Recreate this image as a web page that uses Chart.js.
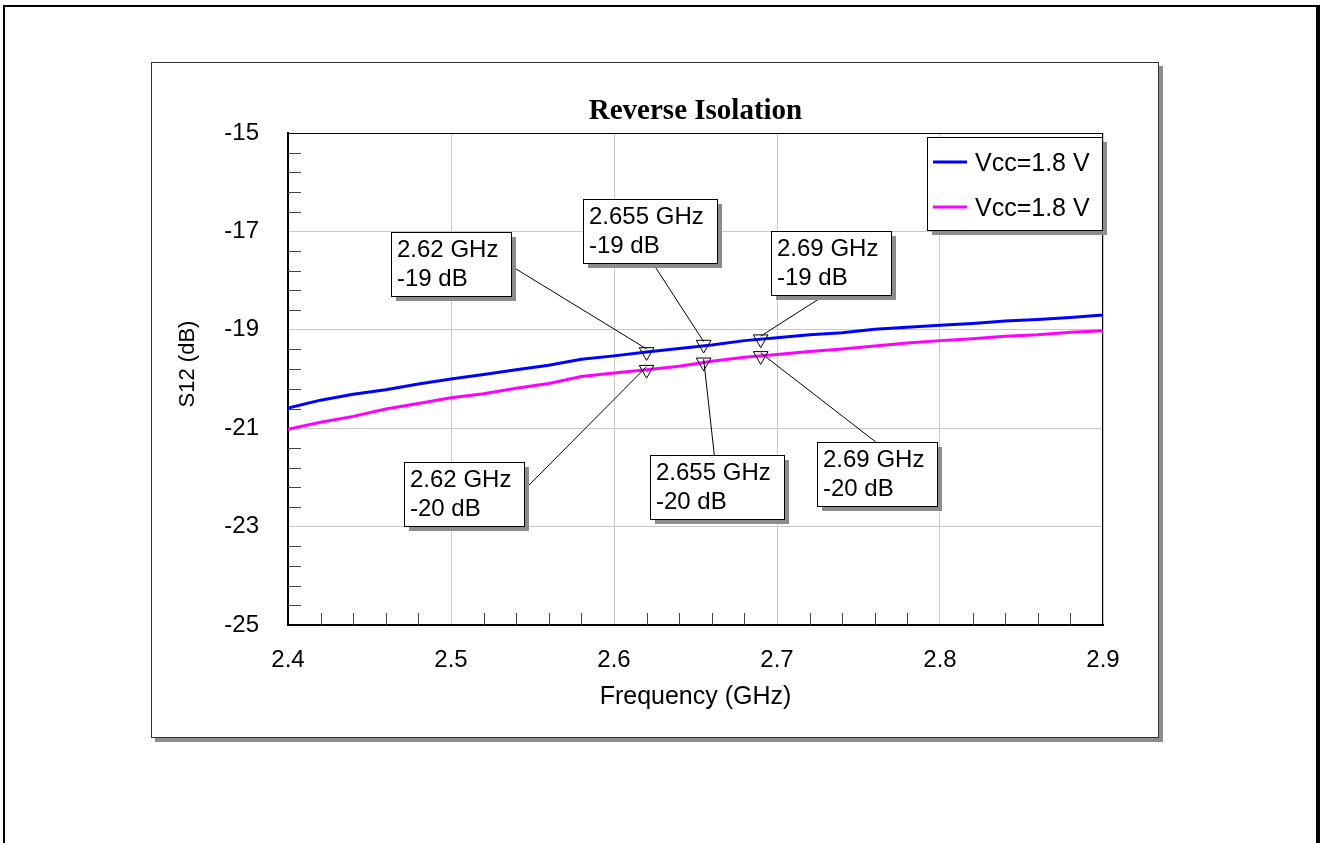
<!DOCTYPE html>
<html><head><meta charset="utf-8">
<script src="https://cdn.jsdelivr.net/npm/chart.js@4.4.1/dist/chart.umd.min.js"></script>
<style>
html,body{margin:0;padding:0;background:#fff;overflow:hidden}
#wrap{position:relative;width:1320px;height:843px}
canvas{position:absolute;left:0;top:0}
#frame{position:absolute;left:3px;top:5px;width:1311px;height:900px;border-left:2px solid #000;border-top:2px solid #000;border-right:4px solid #000;pointer-events:none}
</style></head>
<body><div id="wrap"><canvas id="c" width="1320" height="843"></canvas><div id="frame"></div></div>
<script>
// ---- data ----
const freqGHz = [2.40,2.42,2.44,2.46,2.48,2.50,2.52,2.54,2.56,2.58,2.60,2.62,2.64,2.66,2.68,2.70,2.72,2.74,2.76,2.78,2.80,2.82,2.84,2.86,2.88,2.90];
const s12Blue = [-20.59,-20.43,-20.31,-20.22,-20.10,-20.00,-19.91,-19.81,-19.72,-19.60,-19.53,-19.45,-19.38,-19.31,-19.22,-19.16,-19.10,-19.06,-18.99,-18.95,-18.91,-18.87,-18.82,-18.79,-18.75,-18.70];
const s12Magenta = [-21.02,-20.88,-20.76,-20.61,-20.50,-20.38,-20.30,-20.19,-20.09,-19.95,-19.88,-19.81,-19.74,-19.64,-19.56,-19.50,-19.44,-19.39,-19.33,-19.27,-19.22,-19.18,-19.13,-19.10,-19.05,-19.02];
const markerFreqs = [2.62, 2.655, 2.69];
const markerBlue = [-19.45, -19.30, -19.19];
const markerMagenta = [-19.81, -19.66, -19.53];
const seriesNames = ['Vcc=1.8 V', 'Vcc=1.8 V'];
const titleText = 'Reverse Isolation';
const xTitle = 'Frequency (GHz)';
const yTitle = 'S12 (dB)';

// ---- layout (callout box top-left in data coords, leader anchor as box fraction) ----
const callouts = [
  {set:'b', i:0, left:2.4632, top:-17.012, ax:1.0, ay:0.53},
  {set:'b', i:1, left:2.5810, top:-16.341, ax:0.52, ay:1.0},
  {set:'b', i:2, left:2.6963, top:-16.992, ax:0.45, ay:1.0},
  {set:'m', i:0, left:2.4712, top:-21.687, ax:1.0, ay:0.44},
  {set:'m', i:1, left:2.6221, top:-21.545, ax:0.48, ay:0.0},
  {set:'m', i:2, left:2.7245, top:-21.280, ax:0.49, ay:0.0}
];

const FONT = "'Liberation Sans', Arial, sans-serif";
const plotLeft = 288, plotTop = 133, plotRight = 1103, plotBottom = 625;
const BLUE = '#0000ff', MAG = '#ff00ff';

const decor = {
  id:'decor',
  beforeDraw(chart){
    const ctx = chart.ctx;
    ctx.save();
    ctx.fillStyle = '#fff'; ctx.fillRect(0,0,chart.width,chart.height);
    ctx.fillStyle = '#8c8c8c'; ctx.fillRect(155,66,1008,676);
    ctx.fillStyle = '#fff'; ctx.fillRect(151,62,1008,675);
    ctx.strokeStyle = '#333'; ctx.lineWidth = 1; ctx.strokeRect(151.5,62.5,1007,675);
    ctx.restore();
  },
  beforeDatasetsDraw(chart){
    const ctx = chart.ctx, a = chart.chartArea, xs = chart.scales.x, ys = chart.scales.y;
    ctx.save();
    ctx.strokeStyle = '#000'; ctx.lineWidth = 1;
    ctx.beginPath();
    ctx.moveTo(a.left, a.top + 0.5); ctx.lineTo(a.right, a.top + 0.5);
    ctx.moveTo(a.right - 0.5, a.top); ctx.lineTo(a.right - 0.5, a.bottom);
    ctx.stroke();
    ctx.strokeStyle = '#444'; ctx.lineWidth = 1;
    ctx.beginPath();
    for (let k = 1; k < 25; k++) {
      if (k % 5 === 0) continue;
      const y = Math.round(ys.getPixelForValue(-25 + 0.4 * k)) + 0.5;
      ctx.moveTo(a.left, y); ctx.lineTo(a.left + 13, y);
      const x = Math.round(xs.getPixelForValue(2.4 + 0.02 * k)) + 0.5;
      ctx.moveTo(x, a.bottom); ctx.lineTo(x, a.bottom - 12);
    }
    ctx.stroke();
    ctx.restore();
  },
  afterDatasetsDraw(chart){
    const ctx = chart.ctx, a = chart.chartArea, xs = chart.scales.x, ys = chart.scales.y;
    ctx.save();
    ctx.font = '24px ' + FONT;
    ctx.textBaseline = 'alphabetic';
    callouts.forEach(c => {
      const val = c.set === 'b' ? markerBlue[c.i] : markerMagenta[c.i];
      const l1 = markerFreqs[c.i] + ' GHz';
      const l2 = Math.round(val) + ' dB';
      const w = Math.round(Math.max(ctx.measureText(l1).width, ctx.measureText(l2).width) + 19);
      const h = 64;
      const bx = Math.round(xs.getPixelForValue(c.left));
      const by = Math.round(ys.getPixelForValue(c.top));
      const px = xs.getPixelForValue(markerFreqs[c.i]);
      const py = ys.getPixelForValue(val);
      ctx.strokeStyle = '#000'; ctx.lineWidth = 1;
      ctx.beginPath();
      ctx.moveTo(bx + c.ax * w, by + c.ay * h);
      ctx.lineTo(px, py - 3);
      ctx.stroke();
      ctx.fillStyle = '#8c8c8c'; ctx.fillRect(bx + 5, by + 5, w, h);
      ctx.fillStyle = '#fff'; ctx.fillRect(bx, by, w, h);
      ctx.strokeRect(bx + 0.5, by + 0.5, w, h);
      ctx.fillStyle = '#000';
      ctx.textAlign = 'left';
      ctx.fillText(l1, bx + 6, by + 25);
      ctx.fillText(l2, bx + 6, by + 54);
    });
    const lx = 927, ly = 137, lw = 175, lh = 93;
    ctx.fillStyle = '#8c8c8c'; ctx.fillRect(lx + 5, ly + 5, lw, lh);
    ctx.fillStyle = '#fff'; ctx.fillRect(lx, ly, lw, lh);
    ctx.strokeStyle = '#000'; ctx.lineWidth = 1; ctx.strokeRect(lx + 0.5, ly + 0.5, lw, lh);
    ctx.font = '25px ' + FONT;
    [[BLUE, 162], [MAG, 207]].forEach((d, k) => {
      ctx.strokeStyle = d[0]; ctx.lineWidth = 3;
      ctx.beginPath(); ctx.moveTo(933, d[1]); ctx.lineTo(967, d[1]); ctx.stroke();
      ctx.fillStyle = '#000'; ctx.textAlign = 'left';
      ctx.fillText(seriesNames[k], 975, d[1] + 9);
    });
    ctx.fillStyle = '#000';
    ctx.textAlign = 'center';
    ctx.font = "bold 29px 'Liberation Serif', 'Times New Roman', serif";
    ctx.fillText(titleText, (a.left + a.right) / 2, 119);
    ctx.font = '25px ' + FONT;
    ctx.textBaseline = 'middle';
    ctx.fillText(xTitle, (a.left + a.right) / 2, 697);
    ctx.save();
    ctx.font = '22px ' + FONT;
    ctx.translate(188, 364); ctx.rotate(-Math.PI / 2);
    ctx.fillText(yTitle, 0, 0);
    ctx.restore();
    ctx.restore();
  }
};

new Chart(document.getElementById('c'), {
  type: 'scatter',
  data: { datasets: [
    { label: seriesNames[0], data: freqGHz.map((f, i) => ({x: f, y: s12Blue[i]})), showLine: true, borderColor: BLUE, backgroundColor: BLUE, borderWidth: 3, pointRadius: 0, tension: 0, order: 2 },
    { label: seriesNames[1], data: freqGHz.map((f, i) => ({x: f, y: s12Magenta[i]})), showLine: true, borderColor: MAG, backgroundColor: MAG, borderWidth: 3, pointRadius: 0, tension: 0, order: 2 },
    { label: 'mb', data: markerFreqs.map((f, i) => ({x: f, y: markerBlue[i]})), showLine: false, pointStyle: 'triangle', rotation: 180, pointRadius: 8.5, borderColor: '#000', borderWidth: 1, backgroundColor: 'rgba(0,0,0,0)', order: 1 },
    { label: 'mm', data: markerFreqs.map((f, i) => ({x: f, y: markerMagenta[i]})), showLine: false, pointStyle: 'triangle', rotation: 180, pointRadius: 8.5, borderColor: '#000', borderWidth: 1, backgroundColor: 'rgba(0,0,0,0)', order: 1 }
  ]},
  options: {
    responsive: false, animation: false, devicePixelRatio: 1,
    layout: { padding: { left: plotLeft - 100, top: plotTop, right: 1320 - plotRight, bottom: 843 - plotBottom - 80 } },
    plugins: { legend: { display: false }, title: { display: false }, tooltip: { enabled: false } },
    scales: {
      x: { type: 'linear', min: 2.4, max: 2.9, afterFit: s => { s.height = 80; },
        ticks: { stepSize: 0.1, padding: 21, color: '#000', font: { family: FONT, size: 24 }, callback: v => Number(v).toFixed(1), maxRotation: 0, autoSkip: false },
        grid: { color: '#c8c8c8', lineWidth: 1, drawTicks: false },
        border: { color: '#000', width: 2 } },
      y: { type: 'linear', min: -25, max: -15, afterFit: s => { s.width = 100; },
        ticks: { stepSize: 2, padding: 29, color: '#000', font: { family: FONT, size: 24 }, callback: v => String(Math.round(v)), autoSkip: false },
        grid: { color: '#c8c8c8', lineWidth: 1, drawTicks: false },
        border: { color: '#000', width: 2 } }
    }
  },
  plugins: [decor]
});
</script>
</body></html>
